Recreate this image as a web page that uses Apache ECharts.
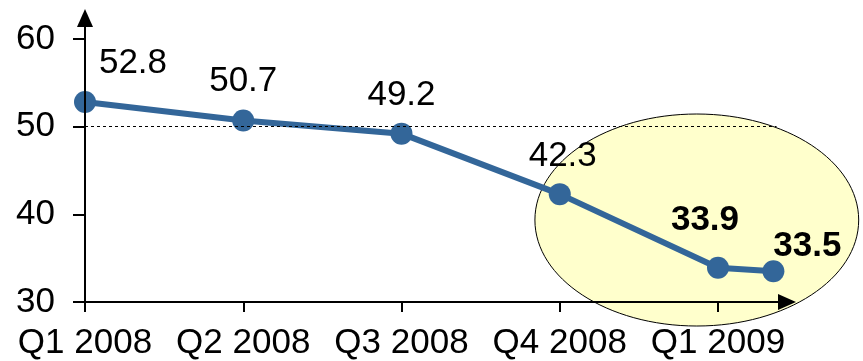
<!DOCTYPE html>
<html>
<head>
<meta charset="utf-8">
<script src="https://cdn.jsdelivr.net/npm/echarts@6/dist/echarts.min.js"></script>
<style>
  html, body { margin: 0; padding: 0; background: #ffffff; }
  #chart { width: 863px; height: 361px; }
</style>
</head>
<body>
<div id="chart"></div>
<script>
// Quarter labels along the time axis
const periods = ['Q1 2008', 'Q2 2008', 'Q3 2008', 'Q4 2008', 'Q1 2009'];
// Position of each reading on the time axis (quarter index; last one is the latest reading)
const positions = [0, 1, 2, 3, 4, 4.35];
// Index values
const values = [52.8, 50.7, 49.2, 42.3, 33.9, 33.5];
// Y tick labels
const yTicks = [30, 40, 50, 60];
// Reference level drawn as a dotted line
const refLevel = 50;

// Label placement relative to each point (pixels)
const labelOffsets = [[48, -39], [0, -39], [0, -38], [3, -38], [-13, -47], [34, -25]];
// The latest two readings are emphasised
const boldFrom = 4;

const FONT = '"Liberation Sans", Arial, sans-serif';
const LINE_COLOR = '#336699';

const chart = echarts.init(document.getElementById('chart'), null, { renderer: 'canvas' });

const seriesData = values.map((v, i) => ({
  value: [positions[i], v],
  label: {
    offset: labelOffsets[i],
    fontWeight: i >= boldFrom ? 'bold' : 'normal'
  }
}));

const axisArrow = {
  show: true,
  lineStyle: { color: '#000000', width: 2 },
  symbol: ['none', 'triangle'],
  symbolSize: [16, 18]
};

chart.setOption({
  animation: false,
  backgroundColor: '#ffffff',
  grid: { left: 85, right: 76, top: 18, bottom: 59, containLabel: false },
  xAxis: {
    type: 'value',
    min: 0,
    max: 4.436,
    z: 5,
    splitLine: { show: false },
    axisLine: axisArrow,
    axisTick: {
      show: true,
      length: 10,
      lineStyle: { color: '#000000', width: 2 },
      customValues: periods.map((_, i) => i)
    },
    axisLabel: {
      customValues: periods.map((_, i) => i),
      formatter: (val) => periods[Math.round(val)] || '',
      color: '#000000',
      fontFamily: FONT,
      fontSize: 35,
      margin: 24
    }
  },
  yAxis: {
    type: 'value',
    min: 30,
    max: 62.39,
    z: 5,
    splitLine: { show: false },
    axisLine: axisArrow,
    axisTick: {
      show: true,
      length: 12,
      lineStyle: { color: '#000000', width: 2 },
      customValues: yTicks
    },
    axisLabel: {
      customValues: yTicks,
      color: '#000000',
      fontFamily: FONT,
      fontSize: 35,
      margin: 30
    }
  },
  series: [
    {
      // Highlight ellipse around the most recent readings
      type: 'custom',
      z: 1,
      silent: true,
      data: [[3.866, 39.35]],
      renderItem: (params, api) => {
        const c = api.coord([api.value(0), api.value(1)]);
        const s = api.size([1.023, 12.09]);
        return {
          type: 'ellipse',
          shape: { cx: c[0], cy: c[1], rx: s[0], ry: s[1] },
          style: { fill: '#FFFFCC', stroke: '#000000', lineWidth: 1 }
        };
      }
    },
    {
      type: 'line',
      z: 3,
      data: seriesData,
      symbol: 'circle',
      symbolSize: 22,
      lineStyle: { color: LINE_COLOR, width: 6 },
      itemStyle: { color: LINE_COLOR },
      label: {
        show: true,
        position: 'inside',
        color: '#000000',
        fontFamily: FONT,
        fontSize: 35,
        formatter: (p) => p.value[1].toFixed(1)
      },
      markLine: {
        silent: true,
        symbol: ['none', 'none'],
        label: { show: false },
        lineStyle: { color: '#000000', type: [3, 3], width: 1 },
        data: [[{ coord: [0, refLevel] }, { coord: [4.37, refLevel] }]]
      }
    }
  ]
});
</script>
</body>
</html>
